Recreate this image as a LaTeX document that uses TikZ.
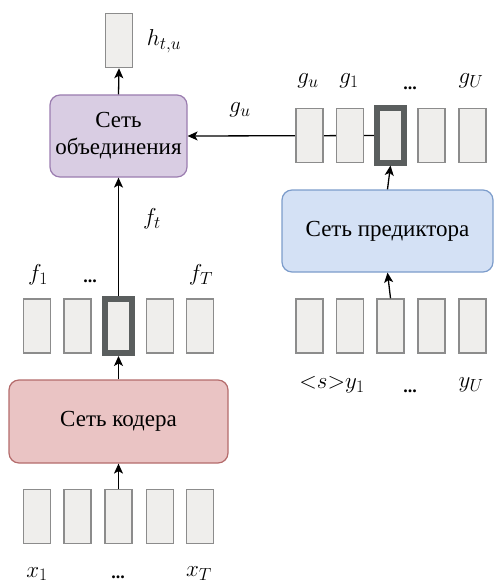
\documentclass[tikz,border=0pt]{standalone}
\usepackage{fix-cm}
\usepackage{fontspec}
\setmainfont{Liberation Serif}
\usetikzlibrary{arrows.meta,backgrounds}
\DeclareMathSizes{23}{23}{17.5}{14}

\definecolor{cellfill}{HTML}{EFEEEC}
\definecolor{celldraw}{HTML}{8C8C8C}
\definecolor{hldraw}{HTML}{5A5E5E}
\definecolor{encfill}{HTML}{EAC4C4}
\definecolor{encdraw}{HTML}{B46B6B}
\definecolor{jointfill}{HTML}{D9CDE3}
\definecolor{jointdraw}{HTML}{9B7DB0}
\definecolor{predfill}{HTML}{D4E1F5}
\definecolor{preddraw}{HTML}{7C9CCB}

\tikzset{
  cell/.style={draw=celldraw, fill=cellfill, line width=1.5pt,
    minimum width=27pt, minimum height=54pt, inner sep=0pt},
  hlcell/.style={cell, draw=hldraw, line width=6pt},
  netbox/.style={rounded corners=10pt, line width=1.2pt, inner sep=0pt,
    align=center, font=\fontsize{23}{27}\selectfont},
  lbl/.style={inner sep=0pt, font=\fontsize{23}{27}\selectfont},
  dots/.style={inner sep=0pt, font=\fontsize{18}{20}\selectfont\bfseries},
  conn/.style={line width=1.3pt, -{Stealth[length=10pt,width=9pt,inset=2.5pt]}},
}

\begin{document}
\begin{tikzpicture}[x=1pt,y=-1pt]
\useasboundingbox (0,0) rectangle (494,583);

% output vector
\node[cell] (out) at (119,40.5) {};
\node[lbl] (hlab) at (164,41) {$h_{t,u}$};

% joint network
\node[netbox, draw=jointdraw, fill=jointfill, minimum width=137pt, minimum height=82pt]
  (joint) at (118.5,136) {Сеть\\объединения};

% encoder outputs f
\node[cell] (f1) at (37,326) {};
\node[cell] (f2) at (77.5,326) {};
\node[hlcell] (f3) at (118.5,326) {};
\node[cell] (f4) at (160,326) {};
\node[cell] (f5) at (200,326) {};
\node[lbl] (lf1) at (38,275) {$f_1$};
\node[dots] (lfd) at (90,281) {...};
\node[lbl] (lfT) at (201,275) {$f_T$};
\node[lbl] (lft) at (152,219) {$f_t$};

% encoder
\node[netbox, draw=encdraw, fill=encfill, minimum width=219pt, minimum height=83pt]
  (enc) at (118.5,421.5) {Сеть кодера};

% encoder inputs x
\node[cell] (x1) at (37,516.5) {};
\node[cell] (x2) at (77.5,516.5) {};
\node[cell] (x3) at (118.5,516.5) {};
\node[cell] (x4) at (160,516.5) {};
\node[cell] (x5) at (200,516.5) {};
\node[lbl] (lx1) at (37,574) {$x_1$};
\node[dots] (lxd) at (118,577) {...};
\node[lbl] (lxT) at (199,574) {$x_T$};

% predictor outputs g
\node[cell] (g1) at (309.5,135.5) {};
\node[cell] (g2) at (350,135.5) {};
\node[hlcell] (g3) at (390.5,135.5) {};
\node[cell] (g4) at (431.5,135.5) {};
\node[cell] (g5) at (472.5,135.5) {};
\node[lbl] (lgu) at (308,81) {$g_u$};
\node[lbl] (lg1) at (349,81) {$g_1$};
\node[dots] (lgd) at (410,88) {...};
\node[lbl] (lgU) at (471,81) {$g_U$};
\node[lbl] (lgarr) at (240,110) {$g_u$};

% predictor
\node[netbox, draw=preddraw, fill=predfill, minimum width=211pt, minimum height=82pt]
  (pred) at (387.5,231) {Сеть предиктора};

% predictor inputs y
\node[cell] (y1) at (309.5,326) {};
\node[cell] (y2) at (350,326) {};
\node[cell] (y3) at (390.5,326) {};
\node[cell] (y4) at (431.5,326) {};
\node[cell] (y5) at (472.5,326) {};
\node[lbl] (ly1) at (332,385) {$\mathord{<}s\mathord{>}y_1$};
\node[dots] (lyd) at (410,391) {...};
\node[lbl] (lyU) at (471,385) {$y_U$};

% connectors
\draw[conn] (joint.north) -- (out.south);
\draw[conn] (f3.north) -- (joint.south);
\draw[conn] (enc.north) -- (f3.south);
\draw[conn] (x3.north) -- (enc.south);
\draw[conn] (pred.north) -- (g3.south);
\draw[conn] (y3.north) -- (pred.south);
\begin{pgfonlayer}{background}
  \draw[conn] (g3.center) -- (joint.east);
\end{pgfonlayer}
\end{tikzpicture}
\end{document}
